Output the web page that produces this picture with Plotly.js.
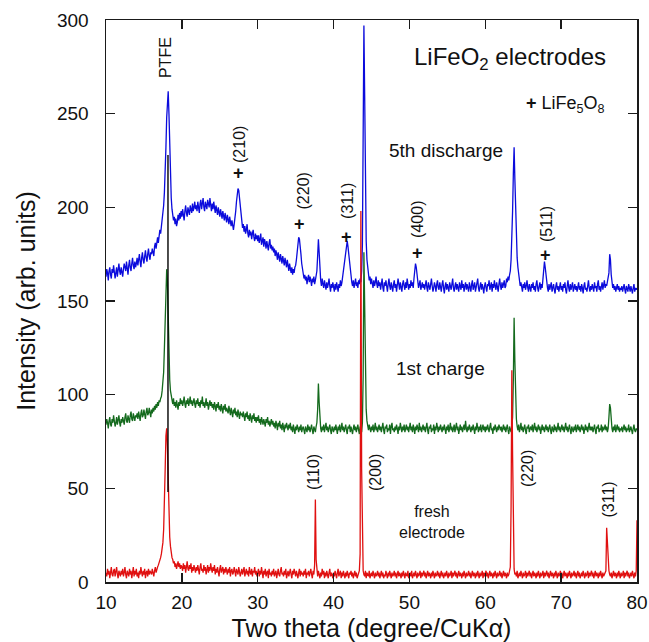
<!DOCTYPE html>
<html>
<head>
<meta charset="utf-8">
<script src="https://cdn.plot.ly/plotly-3.0.1.min.js"></script>
<style>
  html, body { margin: 0; padding: 0; background: #fff; }
  #chart { width: 649px; height: 642px; }
</style>
</head>
<body>
<div id="chart"></div>
<script>
// XRD patterns of LiFeO2 electrodes, sampled every 0.1° from 10° to 80° (2θ),
// one row = 2°
const twoThetaStart = 10;
const twoThetaStep = 0.1;

// 5th discharge (offset pattern)
const discharge5th = [
  163,167,165,161,166,168,164,162,167,165,169,166,162,165,168,163,167,170,166,164,
  168,165,163,167,170,168,166,171,167,164,169,172,168,166,170,173,169,167,171,168,
  170,173,169,172,175,171,168,173,176,172,170,174,177,173,171,175,178,174,172,176,
  175,178,176,174,179,181,178,182,184,181,185,188,186,190,193,196,201,208,218,232,
  248,258,262,250,230,214,205,199,196,193,195,191,194,190,192,196,193,197,194,198,
  195,199,196,193,198,201,197,195,200,198,196,201,199,197,202,198,200,203,199,201,
  198,203,200,197,202,204,199,201,205,200,198,203,201,199,204,202,200,205,201,198,
  202,199,203,200,197,201,199,196,200,198,195,199,197,194,198,196,193,197,195,192,
  196,193,191,195,192,190,193,189,188,191,194,198,203,208,210,209,205,199,194,191,
  189,191,187,190,186,188,191,186,184,188,185,187,183,186,188,184,182,186,183,185,
  182,185,181,183,186,180,182,184,179,183,181,178,182,180,177,181,183,178,180,177,
  179,176,178,174,177,175,172,176,174,171,175,173,170,174,172,169,173,170,168,172,
  169,166,170,167,165,168,164,167,165,168,169,172,177,182,184,183,180,175,170,167,
  165,162,164,161,163,159,162,164,160,163,161,158,162,160,163,159,161,163,166,174,
  183,176,166,161,158,162,159,157,161,158,156,160,157,159,162,158,155,159,157,160,
  157,155,159,156,160,158,155,159,157,161,158,160,163,167,171,175,178,181,182,179,
  175,170,166,163,160,158,161,157,159,162,158,160,157,161,159,162,160,166,180,240,
  297,260,205,182,172,167,164,161,163,159,162,160,157,161,158,160,163,159,157,161,
  158,160,156,159,162,157,155,160,158,161,157,155,159,162,158,156,160,157,155,159,
  161,157,159,155,158,162,159,156,160,157,155,159,161,158,156,160,157,162,158,156,
  159,157,161,158,160,157,162,166,170,168,163,160,157,159,161,156,158,160,157,159,
  156,159,161,157,155,160,158,156,159,162,158,155,157,160,158,155,159,161,157,156,
  160,157,155,159,161,157,154,158,160,156,159,157,155,160,158,156,159,162,157,155,
  158,160,156,159,157,155,160,158,156,161,157,159,155,158,160,156,159,157,155,160,
  157,155,159,161,156,158,160,155,157,159,162,157,155,158,160,156,159,157,154,158,
  160,157,155,159,158,161,156,158,160,155,159,157,161,158,156,160,157,155,159,162,
  158,156,160,157,159,161,157,158,162,160,163,161,164,166,172,182,198,218,232,215,
  195,182,173,168,164,161,158,160,157,155,159,157,160,156,158,161,157,155,159,157,
  155,159,157,160,156,158,155,159,161,157,155,158,160,156,159,157,162,167,171,168,
  163,160,157,155,159,156,158,160,155,157,159,156,154,158,160,156,158,155,157,160,
  156,158,155,159,157,160,156,154,158,161,157,155,159,156,158,160,155,157,159,156,
  158,155,157,160,156,158,155,159,157,154,158,160,156,157,155,159,161,157,155,158,
  156,159,157,155,160,157,158,155,159,161,156,158,155,157,160,156,158,161,157,159,
  158,160,162,165,175,172,164,160,157,159,156,158,155,157,159,156,158,155,157,156,
  158,155,157,159,156,154,158,156,155,159,157,155,158,156,154,157,159,155,157,156,
  157
];

// 1st charge (offset pattern)
const charge1st = [
  84,87,85,82,86,88,84,83,87,85,89,86,83,85,88,84,86,89,85,83,
  87,85,88,86,84,88,90,86,85,89,87,85,89,91,87,86,90,88,86,89,
  88,90,87,91,89,86,90,92,88,89,92,90,87,91,93,89,90,93,91,88,
  92,90,93,91,94,92,95,93,96,94,97,96,98,99,102,106,112,125,145,162,
  167,160,140,120,108,102,99,97,95,98,94,96,93,97,95,92,96,94,98,95,
  97,94,96,99,95,93,97,95,98,94,96,99,95,97,94,96,98,95,93,97,
  95,98,94,96,93,97,95,99,94,96,93,95,98,94,96,92,95,97,94,96,
  93,95,92,96,94,91,95,93,96,92,94,91,95,93,90,94,92,95,91,93,
  92,90,94,91,89,93,91,88,92,90,93,89,91,88,92,90,87,91,89,90,
  88,91,89,86,90,88,91,87,89,86,90,87,85,89,87,90,86,88,85,88,
  86,89,85,87,84,88,86,84,87,85,83,87,85,88,84,86,83,85,87,84,
  86,83,85,82,86,84,81,85,83,86,82,84,81,85,83,80,84,82,85,83,
  81,84,82,85,81,83,80,84,82,79,83,81,84,82,80,83,81,84,80,82,
  83,81,79,83,82,80,84,81,83,80,82,84,81,79,83,82,80,83,85,92,
  106,96,85,82,80,83,81,84,80,82,85,81,83,80,82,84,81,79,83,82,
  80,83,81,84,82,79,83,81,84,80,82,85,81,83,80,82,84,81,79,83,
  82,84,80,83,81,79,82,84,81,83,80,82,84,81,79,83,82,80,85,110,
  176,150,110,92,86,83,81,84,82,80,83,81,84,80,82,85,81,83,80,82,
  84,81,83,80,82,85,81,79,83,82,84,80,82,81,84,79,83,85,81,82,
  80,83,81,84,82,79,83,81,85,82,80,83,81,84,80,82,84,81,83,80,
  82,85,81,83,80,84,82,79,83,81,84,82,80,85,81,83,80,82,84,81,
  83,80,82,85,81,79,83,82,84,80,82,81,84,79,83,81,85,82,80,83,
  81,84,82,80,83,81,84,82,79,83,81,84,80,82,85,81,83,80,82,84,
  80,82,85,81,83,79,82,84,81,83,80,82,84,81,86,82,80,83,81,84,
  82,80,83,81,84,82,79,83,81,85,82,80,83,81,84,80,82,84,81,83,
  80,83,81,84,82,80,83,85,81,82,79,83,81,84,82,80,83,81,84,82,
  81,83,80,82,84,81,83,80,82,84,81,79,83,82,80,83,88,108,141,118,
  96,87,83,81,84,80,82,85,81,83,80,82,84,81,79,83,82,84,80,82,
  83,81,84,80,82,85,81,83,80,82,84,81,83,79,82,84,81,83,80,82,
  84,81,83,80,82,84,81,79,83,82,80,84,81,83,80,82,85,81,83,80,
  82,84,81,83,80,82,85,81,83,80,82,84,81,79,83,82,80,83,81,84,
  80,82,84,81,83,80,82,84,81,83,79,82,84,81,83,80,82,85,81,83,
  81,83,80,82,84,81,79,83,82,84,80,82,81,84,80,83,81,82,84,81,
  83,80,82,88,95,93,86,82,80,83,81,84,80,82,84,81,83,80,82,81,
  83,80,82,84,81,83,80,82,81,84,80,82,83,81,79,82,84,81,80,82,
  81
];

// fresh electrode
const freshElectrode = [
  5,3,7,4,6,2,5,8,4,3,6,7,3,5,8,4,2,6,5,3,
  6,4,7,3,5,8,4,2,6,5,3,7,4,6,2,5,8,3,6,4,
  7,3,5,2,6,4,8,5,3,6,4,7,2,5,6,3,7,4,6,5,
  4,7,5,3,6,8,5,7,8,9,10,12,13,15,17,21,28,40,60,78,
  82,72,50,32,24,19,15,13,12,10,11,8,10,7,9,11,8,10,7,9,
  8,6,10,7,9,5,8,11,7,6,9,7,10,5,8,6,9,7,5,8,
  6,9,7,4,8,10,6,7,5,9,6,8,4,7,9,5,8,6,10,7,
  5,8,6,9,4,7,5,8,6,3,7,9,5,6,8,4,7,5,8,6,
  4,7,5,8,3,6,7,4,5,8,6,3,7,5,4,8,6,3,5,7,
  4,6,8,3,5,7,4,6,3,8,5,4,7,3,6,5,8,4,6,3,
  5,7,3,6,4,8,5,2,6,4,7,3,5,6,2,7,4,5,3,6,
  4,7,3,5,6,2,5,7,4,3,6,8,4,5,3,6,4,7,2,5,
  6,3,5,7,4,2,6,4,7,5,3,6,4,2,5,7,3,6,4,5,
  3,6,4,7,2,5,4,6,3,5,7,4,2,6,4,9,44,12,5,3,
  6,4,2,5,3,7,4,6,2,5,3,6,4,2,5,7,3,5,4,2,
  5,3,6,4,2,5,7,3,4,6,2,5,3,6,4,2,5,3,6,4,
  2,5,4,6,3,5,2,4,6,3,5,2,4,6,6,15,198,60,10,6,
  4,3,6,2,5,4,3,6,2,4,5,3,6,4,2,5,3,4,6,3,
  5,2,4,6,3,5,2,4,3,6,4,2,5,3,6,4,2,5,3,4,
  6,3,5,2,4,6,3,5,4,2,5,3,6,4,2,5,4,3,6,2,
  4,5,3,6,2,4,5,3,6,4,2,5,3,4,6,2,5,3,4,6,
  3,5,2,4,6,3,5,4,2,5,3,6,4,2,5,3,4,6,3,5,
  2,4,6,3,5,2,4,5,3,6,4,2,5,3,4,6,2,5,3,4,
  6,3,5,2,4,6,3,5,4,2,5,3,6,4,2,5,3,4,6,3,
  5,2,4,6,3,5,4,2,5,3,6,4,2,5,3,4,6,2,5,3,
  4,6,3,5,2,4,6,3,5,4,2,5,3,6,4,2,5,3,4,6,
  3,5,2,4,6,3,5,4,2,5,3,4,6,8,40,113,68,15,7,4,
  5,3,6,2,4,5,3,6,4,2,5,3,4,6,2,5,3,4,6,3,
  5,2,4,6,3,5,4,2,5,3,6,4,2,5,3,4,6,2,5,3,
  4,6,3,5,2,4,6,3,5,4,2,5,3,6,4,2,5,3,4,6,
  3,5,2,4,6,3,5,4,2,5,3,6,4,2,5,3,4,6,3,5,
  2,4,6,3,5,2,4,5,3,6,4,2,5,3,4,6,2,5,3,4,
  6,3,5,2,4,6,3,5,4,2,5,3,6,4,2,5,3,4,5,6,
  29,20,14,6,4,3,5,2,4,6,3,5,4,2,5,3,6,4,2,5,
  3,4,6,2,5,3,4,6,3,5,2,4,5,3,6,4,2,5,3,6,
  33
];

// PTFE reflection marker
const ptfeMarkerX = [18.17, 18.17];
const ptfeMarkerY = [228, 48];

// axis ticks
const xTickVals = [10, 20, 30, 40, 50, 60, 70, 80];
const yTickVals = [0, 50, 100, 150, 200, 250, 300];

// reflection labels: [2θ, intensity, text]
const spinelLabels = [
  [27.53, 233.8, '(210)'],
  [36.03, 208.7, '(220)'],
  [41.90, 203.4, '(311)'],
  [51.13, 193.3, '(400)'],
  [68.00, 191.1, '(511)']
];
const spinelCrosses = [
  [27.44, 218.2],
  [35.57, 191.1],
  [41.64, 184.3],
  [51.09, 175.6],
  [68.00, 174.6]
];
const freshLabels = [
  [37.29, 58.7, '(110)'],
  [45.46, 58.7, '(200)'],
  [65.50, 60.3, '(220)'],
  [76.24, 44.3, '(311)']
];

const FONT = 'Liberation Sans, Arial, Helvetica, sans-serif';

function pattern(values, color) {
  return {
    type: 'scatter', mode: 'lines',
    x0: twoThetaStart, dx: twoThetaStep, y: values,
    line: { color: color, width: 1.3 },
    hoverinfo: 'skip', showlegend: false
  };
}

const traces = [
  pattern(discharge5th, '#0b0bdc'),
  pattern(charge1st, '#146a1d'),
  pattern(freshElectrode, '#e01010'),
  {
    type: 'scatter', mode: 'lines',
    x: ptfeMarkerX, y: ptfeMarkerY,
    line: { color: '#000', width: 1.4 },
    hoverinfo: 'skip', showlegend: false
  }
];

const annotations = [];
function addText(x, y, text, size, angle) {
  annotations.push({
    x: x, y: y, xref: 'x', yref: 'y', text: text, showarrow: false,
    textangle: angle || 0, xanchor: 'center', yanchor: 'middle',
    font: { family: FONT, size: size, color: '#111' }
  });
}

addText(17.78, 279.7, 'PTFE', 16, -90);
spinelLabels.forEach(l => addText(l[0], l[1], l[2], 16, -90));
spinelCrosses.forEach(c => addText(c[0], c[1], '<b>+</b>', 18));
freshLabels.forEach(l => addText(l[0], l[1], l[2], 16, -90));

addText(63.26, 279.2, 'LiFeO<sub>2</sub> electrodes', 24);
addText(70.6, 254.7, '<b>+</b> LiFe<sub>5</sub>O<sub>8</sub>', 18);
addText(54.82, 230.6, '5th discharge', 19);
addText(54.03, 114.2, '1st charge', 19);
addText(52.97, 32.0, 'fresh<br>electrode', 16);

const axisCommon = {
  showline: true, linecolor: '#1a1a1a', linewidth: 1.5, mirror: 'ticks',
  ticks: 'inside', ticklen: 9, tickwidth: 1.5, tickcolor: '#1a1a1a',
  showgrid: false, zeroline: false, automargin: false,
  tickfont: { family: FONT, size: 19, color: '#111' }
};

const layout = {
  width: 649, height: 642,
  margin: { l: 106, r: 12, t: 20, b: 60 },
  paper_bgcolor: '#fff', plot_bgcolor: '#fff',
  showlegend: false,
  xaxis: Object.assign({}, axisCommon, {
    range: [10, 80], tickvals: xTickVals, ticklabelstandoff: 3,
    title: { text: 'Two theta (degree/CuKα)', standoff: 10,
             font: { family: FONT, size: 25, color: '#111' } }
  }),
  yaxis: Object.assign({}, axisCommon, {
    range: [0, 300], tickvals: yTickVals, ticklabelstandoff: 12,
    title: { text: 'Intensity (arb. units)', standoff: 14,
             font: { family: FONT, size: 25, color: '#111' } }
  }),
  annotations: annotations
};

Plotly.newPlot('chart', traces, layout, { staticPlot: true, displayModeBar: false });
</script>
</body>
</html>
